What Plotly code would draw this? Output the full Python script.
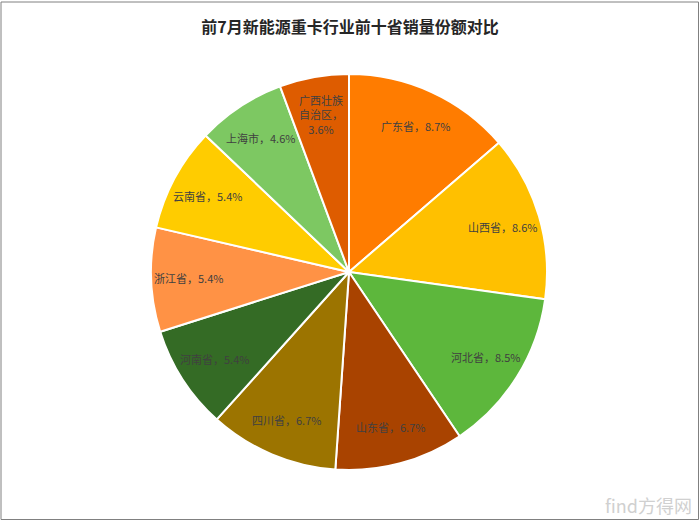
import math
import plotly.graph_objects as go

provinces = ["广东省", "山西省", "河北省", "山东省", "四川省", "河南省", "浙江省", "云南省", "上海市", "广西壮族自治区"]
shares = [8.7, 8.6, 8.5, 6.7, 6.7, 5.4, 5.4, 5.4, 4.6, 3.6]
colors = ["#FF7C00", "#FFC000", "#5DB73C", "#A94300", "#9C7400", "#346B25",
          "#FF9245", "#FFCC00", "#7DC862", "#DE5C00"]

labels_text = []
for p, s in zip(provinces, shares):
    if p == "广西壮族自治区":
        labels_text.append("广西壮族<br>自治区，<br>%.1f%%" % s)
    else:
        labels_text.append("%s，%.1f%%" % (p, s))

W, H = 700, 521
cx, cy, r = 349, 272, 198
label_frac = 0.81

fig = go.Figure(go.Pie(
    labels=provinces,
    values=shares,
    textinfo="none",
    sort=False,
    direction="clockwise",
    rotation=0,
    domain=dict(x=[(cx - r) / W, (cx + r) / W], y=[1 - (cy + r) / H, 1 - (cy - r) / H]),
    marker=dict(colors=colors, line=dict(color="white", width=2)),
    showlegend=False,
    hoverinfo="label+value",
))

# data labels placed at slice mid-angles (derived from the share values)
total = sum(shares)
annotations = []
cum = 0.0
for s, t in zip(shares, labels_text):
    mid = (cum + s / 2) / total * 2 * math.pi
    cum += s
    px = cx + label_frac * r * math.sin(mid)
    py = cy - label_frac * r * math.cos(mid)
    annotations.append(dict(text=t, x=px / W, y=1 - py / H, xref="paper", yref="paper",
                            xanchor="center", yanchor="middle", showarrow=False, align="center",
                            font=dict(family="Noto Sans CJK SC", size=11, color="#404040")))

annotations.append(dict(text="find方得网", x=1 - 6 / W, y=1 - 505 / H, xref="paper", yref="paper",
                        xanchor="right", yanchor="middle", showarrow=False,
                        font=dict(family="Noto Sans CJK SC", size=18, color="#D0D0D0")))

fig.update_layout(
    width=W, height=H,
    margin=dict(l=0, r=0, t=0, b=0),
    paper_bgcolor="white",
    title=dict(text="<b>前7月新能源重卡行业前十省销量份额对比</b>",
               x=0.5, xanchor="center", y=1 - 27 / H, yanchor="middle",
               font=dict(family="Noto Sans CJK SC", size=16, color="#262626")),
    shapes=[dict(type="rect", xref="paper", yref="paper",
                 x0=1 / W, x1=1 - 1.5 / W, y0=1.5 / H, y1=1 - 2 / H,
                 line=dict(color="#808080", width=1))],
    annotations=annotations,
)

fig.write_html("out.html", config={"displayModeBar": False},
               post_script="document.body.style.margin='0';document.body.style.overflow='hidden';")
